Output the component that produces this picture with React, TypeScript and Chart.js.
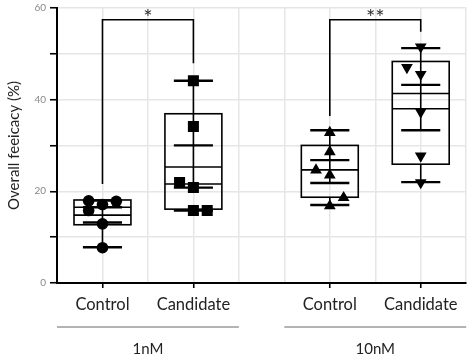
import React, { useEffect, useRef } from 'react';
import { Chart, registerables } from 'chart.js';

Chart.register(...registerables);

// ---- data ----
const categories = ['Control', 'Candidate', 'Control', 'Candidate'];
const categoryX = [1, 2, 3.5, 4.5];
const groups = ['1nM', '10nM'];
const groupCenters = [1.5, 4];
const groupStart = [0.5, 3];
const groupEnd = [2.5, 5];

const control1nM = [17.9, 17.8, 17.1, 15.8, 12.9, 7.7];
const candidate1nM = [44.1, 34.1, 21.9, 20.8, 15.8, 15.8];
const control10nM = [32.8, 28.6, 24.6, 23.5, 18.6, 16.8];
const candidate10nM = [51.5, 47.0, 45.5, 37.3, 27.7, 21.9];

const jitterControl1nM = [-1, 1, 0, -1, 0, 0];
const jitterCandidate1nM = [0, 0, -1, 0, 0, 1];
const jitterControl10nM = [0, 0, -1, 0, 1, 0];
const jitterCandidate10nM = [0, -1, 0, 0, 0, 0];

const boxMin = [7.8, 15.8, 17.0, 22.0];
const boxQ1 = [12.7, 16.1, 18.7, 25.9];
const boxMedian = [16.5, 21.6, 24.7, 41.3];
const boxQ3 = [18.1, 36.9, 30.0, 48.3];
const boxMax = [18.0, 44.1, 33.3, 51.2];
const meanValues = [14.8, 25.3, 24.7, 38.0];
const semLow = [13.2, 20.8, 21.8, 33.3];
const semHigh = [16.5, 30.0, 26.8, 43.2];

const bracketFrom = [1, 3.5];
const bracketTo = [2, 4.5];
const bracketTop = [57.4, 57.4];
const bracketLeftEnd = [21.6, 36.4];
const bracketRightEnd = [47.9, 54.8];
const bracketLabels = ['*', '**'];

const yTickLabels = [0, 20, 40, 60];
const yTitle = 'Overall feeicacy (%)';

// ---- style constants ----
const FONT = 'Lato, "Open Sans", sans-serif';
const JITTER = 0.152;
const BOX_HALF = 0.313;
const CAP_HALF = 0.215;

const pts = (vals: number[], jit: number[], cx: number) =>
  vals.map((v, i) => ({ x: cx + jit[i] * JITTER, y: v }));

const boxPlugin = {
  id: 'boxOverlay',
  beforeDatasetsDraw(chart: any) {
    const { ctx, scales } = chart;
    const xs = scales.x;
    const ys = scales.y;
    const Y = (v: number) => ys.getPixelForValue(v);
    const seg = (x1: number, y1: number, x2: number, y2: number) => {
      ctx.beginPath();
      ctx.moveTo(x1, y1);
      ctx.lineTo(x2, y2);
      ctx.stroke();
    };
    ctx.save();
    ctx.strokeStyle = '#000';
    ctx.lineCap = 'butt';
    categoryX.forEach((cx, i) => {
      const px = xs.getPixelForValue(cx);
      const hw = xs.getPixelForValue(cx + BOX_HALF) - px;
      const cw = xs.getPixelForValue(cx + CAP_HALF) - px;
      ctx.lineWidth = 1.6;
      seg(px, Y(boxMin[i]), px, Y(boxQ1[i]));
      seg(px, Y(semLow[i]), px, Y(boxMax[i]));
      ctx.strokeRect(px - hw, Y(boxQ3[i]), 2 * hw, Y(boxQ1[i]) - Y(boxQ3[i]));
      seg(px - hw, Y(boxMedian[i]), px + hw, Y(boxMedian[i]));
      seg(px - hw, Y(meanValues[i]), px + hw, Y(meanValues[i]));
      ctx.lineWidth = 2.4;
      [boxMin, boxMax, semLow, semHigh].forEach((arr) => {
        seg(px - cw, Y(arr[i]), px + cw, Y(arr[i]));
      });
    });
    ctx.restore();
  },
  afterDatasetsDraw(chart: any) {
    const { ctx, scales } = chart;
    ctx.save();
    ctx.fillStyle = '#333';
    ctx.font = `22px ${FONT}`;
    ctx.textAlign = 'center';
    ctx.textBaseline = 'alphabetic';
    bracketLabels.forEach((lab, i) => {
      const px = scales.x.getPixelForValue((bracketFrom[i] + bracketTo[i]) / 2);
      const py = scales.y.getPixelForValue(bracketTop[i]);
      ctx.fillText(lab, px, py + 5);
    });
    ctx.restore();
  },
  afterDraw(chart: any) {
    const { ctx, scales, chartArea } = chart;
    const xs = scales.x;
    ctx.save();
    ctx.strokeStyle = '#9a9a9a';
    ctx.lineWidth = 1.5;
    ctx.fillStyle = '#222';
    ctx.font = `15px ${FONT}`;
    ctx.textAlign = 'center';
    ctx.textBaseline = 'middle';
    groups.forEach((g, i) => {
      const ly = chartArea.bottom + 44;
      ctx.beginPath();
      ctx.moveTo(xs.getPixelForValue(groupStart[i]), ly);
      ctx.lineTo(xs.getPixelForValue(groupEnd[i]), ly);
      ctx.stroke();
      ctx.fillText(g, xs.getPixelForValue(groupCenters[i]), chartArea.bottom + 66);
    });
    ctx.restore();
  },
};

export default function App() {
  const ref = useRef<HTMLCanvasElement>(null);
  useEffect(() => {
    document.body.style.margin = '0';
    const canvas = ref.current;
    if (!canvas) return;
    const pointBase = { backgroundColor: '#000', borderColor: '#000', borderWidth: 0, showLine: false };
    const bracketSets = bracketFrom.map((f, i) => ({
      type: 'line' as const,
      data: [
        { x: f, y: bracketLeftEnd[i] },
        { x: f, y: bracketTop[i] },
        { x: bracketTo[i], y: bracketTop[i] },
        { x: bracketTo[i], y: bracketRightEnd[i] },
      ],
      borderColor: '#000',
      borderWidth: 1.6,
      pointRadius: 0,
      fill: false,
      showLine: true,
      tension: 0,
    }));
    const chart = new Chart(canvas, {
      type: 'scatter',
      data: {
        datasets: [
          ...bracketSets,
          { ...pointBase, data: pts(control1nM, jitterControl1nM, categoryX[0]), pointStyle: 'circle', pointRadius: 5.8 },
          { ...pointBase, data: pts(candidate1nM, jitterCandidate1nM, categoryX[1]), pointStyle: 'rect', pointRadius: 7.8 },
          { ...pointBase, data: pts(control10nM, jitterControl10nM, categoryX[2]), pointStyle: 'triangle', pointRadius: 6.8 },
          { ...pointBase, data: pts(candidate10nM, jitterCandidate10nM, categoryX[3]), pointStyle: 'triangle', pointRadius: 6.8, rotation: 180 },
        ] as any,
      },
      options: {
        animation: false,
        responsive: false,
        maintainAspectRatio: false,
        layout: { padding: { top: 5, right: 0, left: 0, bottom: 0 } },
        plugins: { legend: { display: false }, tooltip: { enabled: false } },
        scales: {
          x: {
            type: 'linear',
            min: 0.5,
            max: 5,
            afterBuildTicks: (s: any) => {
              const t = [];
              for (let v = 0.5; v <= 5.001; v += 0.5) t.push({ value: v });
              s.ticks = t;
            },
            afterFit: (s: any) => {
              s.height = 76;
              s.paddingLeft = 0;
              s.paddingRight = 0;
            },
            ticks: {
              autoSkip: false,
              maxRotation: 0,
              padding: 7,
              color: '#222',
              font: { family: FONT, size: 16.5 },
              callback: (v: any) => {
                const idx = categoryX.indexOf(Number(v));
                return idx >= 0 ? categories[idx] : '';
              },
            },
            grid: {
              color: '#e6e6e6',
              lineWidth: 1.5,
              tickLength: 5,
              tickWidth: 1.6,
              tickColor: (c: any) => (categoryX.indexOf(c.tick?.value) >= 0 ? '#000' : 'rgba(0,0,0,0)'),
            },
            border: { color: '#000', width: 2 },
          },
          y: {
            min: 0,
            max: 60,
            afterFit: (s: any) => {
              s.width = 57;
              s.paddingTop = 0;
              s.paddingBottom = 0;
            },
            ticks: {
              stepSize: 10,
              padding: 4,
              color: '#888',
              font: { family: FONT, size: 10 },
              callback: (v: any) => (yTickLabels.indexOf(Number(v)) >= 0 ? String(v) : ''),
            },
            grid: {
              color: '#e6e6e6',
              lineWidth: 1.5,
              tickLength: 7,
              tickWidth: 1.6,
              tickColor: '#000',
            },
            border: { color: '#000', width: 2 },
            title: {
              display: true,
              text: yTitle,
              color: '#222',
              font: { family: FONT, size: 15 },
              padding: { top: 5, bottom: 0 },
            },
          },
        },
      } as any,
      plugins: [boxPlugin],
    });
    return () => chart.destroy();
  }, []);
  return (
    <div style={{ width: 474, height: 359 }}>
      <canvas ref={ref} width={474} height={359} style={{ display: 'block' }} />
    </div>
  );
}
